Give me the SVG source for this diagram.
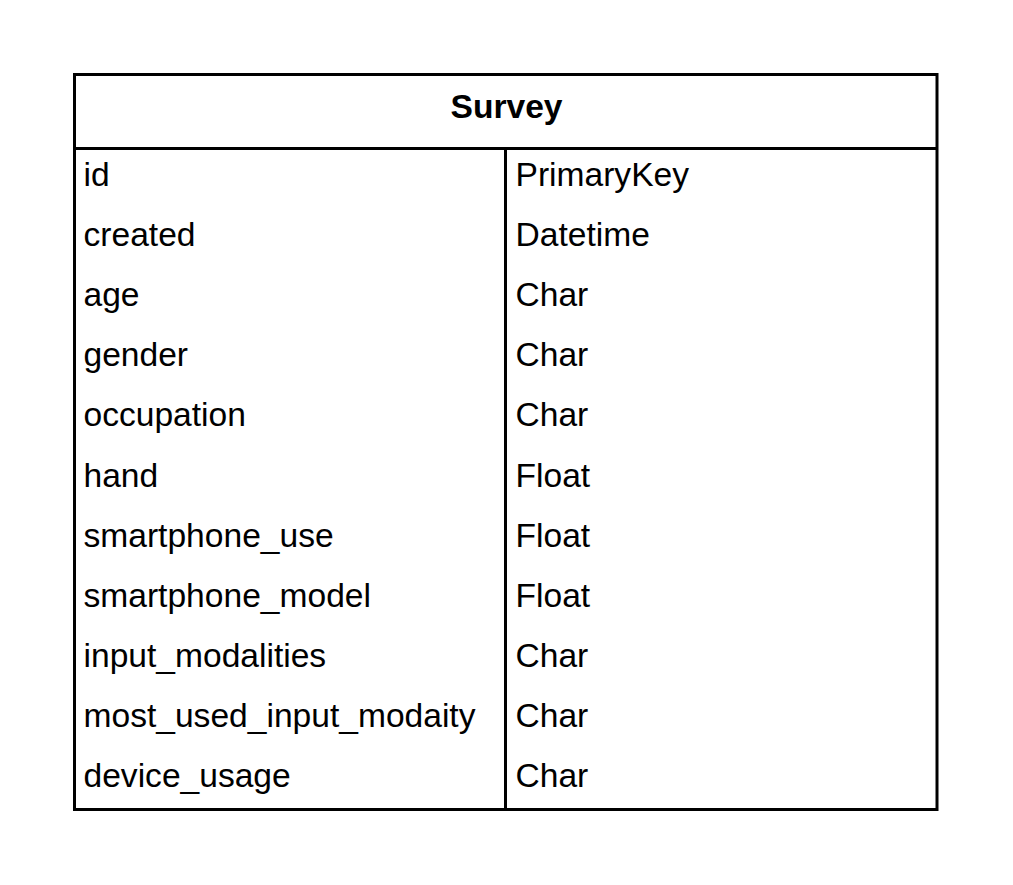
<svg xmlns="http://www.w3.org/2000/svg" width="1013" height="885" viewBox="0 0 1013 885">
<style>
.t{font-family:"Liberation Sans",Arial,sans-serif;font-size:33.6px;fill:#000}
.h{font-weight:bold;text-anchor:middle}
.ln{stroke:#000;stroke-width:3;fill:none}
</style>
<rect width="1013" height="885" fill="#fff"/>
<g id="survey">
<rect class="ln" x="74.5" y="74.5" width="862.5" height="735"/>
<line class="ln" x1="74.5" y1="148.5" x2="937" y2="148.5"/>
<line class="ln" x1="505.5" y1="148.5" x2="505.5" y2="809.5"/>
<text class="t h" x="506.5" y="117.5">Survey</text>
<g class="t">
<text x="83.5" y="186">id</text>
<text x="83.5" y="246.1">created</text>
<text x="83.5" y="306.2">age</text>
<text x="83.5" y="366.3">gender</text>
<text x="83.5" y="426.4">occupation</text>
<text x="83.5" y="486.5">hand</text>
<text x="83.5" y="546.6">smartphone_use</text>
<text x="83.5" y="606.7">smartphone_model</text>
<text x="83.5" y="666.8">input_modalities</text>
<text x="83.5" y="726.9">most_used_input_modaity</text>
<text x="83.5" y="787">device_usage</text>
<text x="515.5" y="186">PrimaryKey</text>
<text x="515.5" y="246.1">Datetime</text>
<text x="515.5" y="306.2">Char</text>
<text x="515.5" y="366.3">Char</text>
<text x="515.5" y="426.4">Char</text>
<text x="515.5" y="486.5">Float</text>
<text x="515.5" y="546.6">Float</text>
<text x="515.5" y="606.7">Float</text>
<text x="515.5" y="666.8">Char</text>
<text x="515.5" y="726.9">Char</text>
<text x="515.5" y="787">Char</text>
</g>
</g>
<g id="connectors"/>
</svg>
